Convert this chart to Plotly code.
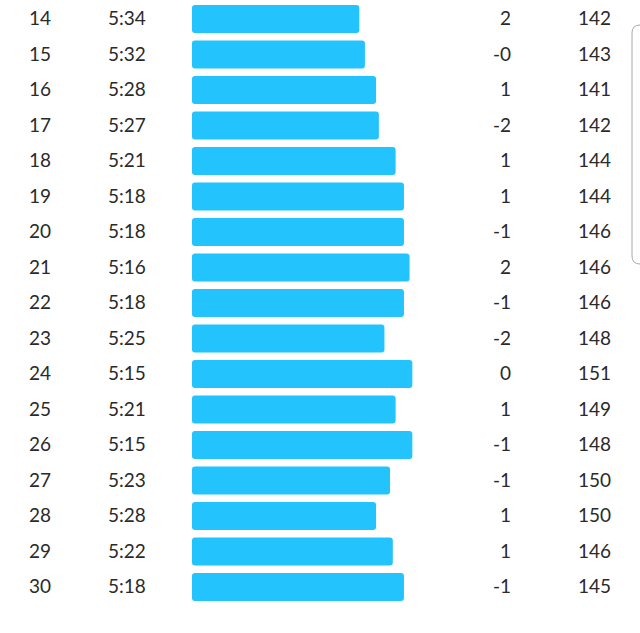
import plotly.graph_objects as go

laps = [14, 15, 16, 17, 18, 19, 20, 21, 22, 23, 24, 25, 26, 27, 28, 29, 30]
paces = ["5:34", "5:32", "5:28", "5:27", "5:21", "5:18", "5:18", "5:16", "5:18",
         "5:25", "5:15", "5:21", "5:15", "5:23", "5:28", "5:22", "5:18"]
elevation = ["2", "-0", "1", "-2", "1", "1", "-1", "2", "-1", "-2", "0", "1", "-1",
             "-1", "1", "1", "-1"]
heart_rate = [142, 143, 141, 142, 144, 144, 146, 146, 146, 148, 151, 149, 148, 150,
              150, 146, 145]

pace_sec = [int(p.split(":")[0]) * 60 + int(p.split(":")[1]) for p in paces]
BASE = 394  # bar baseline (reference pace, seconds)

W, H = 640, 633
px_per_sec = 2.789
bar_left_px = 192
x_left = BASE + bar_left_px / px_per_sec
x_right = BASE - (W - bar_left_px) / px_per_sec

row_px = 35.5
first_px = 19
y_top = laps[0] - first_px / row_px
y_bot = laps[0] + (H - first_px) / row_px

fig = go.Figure()
fig.add_trace(go.Bar(
    y=laps,
    x=[p - BASE for p in pace_sec],
    base=[BASE] * len(laps),
    orientation="h",
    width=0.79,
    marker=dict(color="#23C3FD", line=dict(width=0)),
    hoverinfo="skip",
))

font = dict(family="Lato, Noto Sans, sans-serif", size=19, color="#2a2a2a", weight=400)
ann = []
for lap, pace, el, hr in zip(laps, paces, elevation, heart_rate):
    common = dict(y=lap, yref="y", xref="paper", yanchor="middle", showarrow=False,
                  font=font, yshift=1.5)
    ann.append(dict(x=27 / W, text=str(lap), xanchor="left", **common))
    ann.append(dict(x=106 / W, text=pace, xanchor="left", **common))
    ann.append(dict(x=513 / W, text=el, xanchor="right", **common))
    ann.append(dict(x=613 / W, text=str(hr), xanchor="right", **common))

# partially visible card at right edge
x0, y0, y1, r = 632 / W, 1 - 25 / H, 1 - 264 / H, 8
rx, ry = r / W, r / H
path = (f"M {x0 + 0.2} {y0} L {x0 + rx} {y0} Q {x0} {y0} {x0} {y0 - ry} "
        f"L {x0} {y1 + ry} Q {x0} {y1} {x0 + rx} {y1} L {x0 + 0.2} {y1}")

fig.update_layout(
    width=W, height=H,
    margin=dict(l=0, r=0, t=0, b=0),
    paper_bgcolor="white", plot_bgcolor="white",
    showlegend=False,
    barcornerradius=3,
    xaxis=dict(range=[x_left, x_right], visible=False, fixedrange=True),
    yaxis=dict(range=[y_bot, y_top], visible=False, fixedrange=True),
    annotations=ann,
    shapes=[dict(type="path", path=path, xref="paper", yref="paper",
                 line=dict(color="#a8a8a8", width=1))],
)

fig.write_html("out.html", config={"displayModeBar": False},
               post_script="document.body.style.margin='0';document.body.style.overflow='hidden';")
